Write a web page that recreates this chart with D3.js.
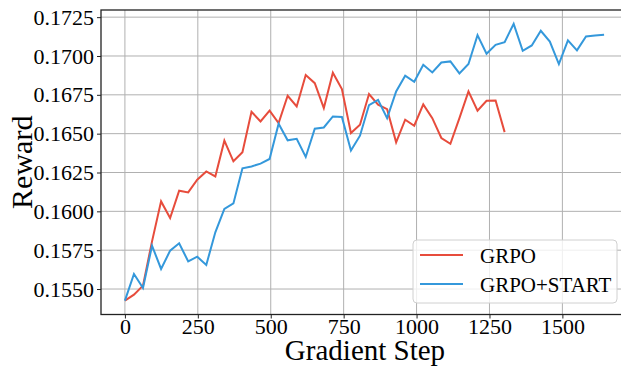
<!DOCTYPE html>
<html lang="en">

<head>
    <meta charset="UTF-8">
    <title>Reward vs Gradient Step</title>
    <script src="https://d3js.org/d3.v7.min.js"></script>
    <style>
        body {
            margin: 0;
            background: #fff;
        }

        svg {
            font-family: "Liberation Serif", "Times New Roman", serif;
        }

        .grid line {
            stroke: #b0b0b0;
            stroke-width: 1;
        }

        .line {
            fill: none;
            stroke-width: 2;
        }
    </style>
</head>

<body>
    <div id="chart"></div>

    <script>
        // training steps (shared by both runs)
        const steps = [0, 31, 62, 93, 124, 155, 186, 217, 248, 279, 310, 341, 372, 403, 434, 465, 496, 527,
            558, 589, 620, 651, 682, 713, 744, 775, 806, 837, 868, 899, 930, 961, 992, 1023, 1054, 1085,
            1116, 1147, 1178, 1209, 1240, 1271, 1302, 1333, 1364, 1395, 1426, 1457, 1488, 1519, 1550,
            1581, 1612, 1643];

        const grpo = [0.15425, 0.15464, 0.15522, 0.15807, 0.16064, 0.15957, 0.16133, 0.16122, 0.16204, 0.16257,
            0.16225, 0.16455, 0.16322, 0.16380, 0.16641, 0.16579, 0.16648, 0.16568, 0.16744, 0.16675,
            0.16877, 0.16825, 0.16665, 0.16892, 0.16787, 0.16504, 0.16557, 0.16755, 0.16686, 0.16658,
            0.16444, 0.16590, 0.16551, 0.16688, 0.16600, 0.16472, 0.16435, 0.16600, 0.16772, 0.16648,
            0.16712, 0.16714, 0.16510];

        const grpoStart = [0.15425, 0.15597, 0.15507, 0.15779, 0.15629, 0.15747, 0.15794, 0.15678, 0.15708, 0.15655,
            0.15865, 0.16015, 0.16051, 0.16277, 0.16289, 0.16307, 0.16337, 0.16564, 0.16457, 0.16467,
            0.16350, 0.16532, 0.16540, 0.16611, 0.16607, 0.16392, 0.16487, 0.16684, 0.16718, 0.16600,
            0.16772, 0.16873, 0.16834, 0.16943, 0.16894, 0.16958, 0.16965, 0.16888, 0.16948, 0.17134,
            0.17014, 0.17072, 0.17089, 0.17207, 0.17033, 0.17068, 0.17162, 0.17093, 0.16948, 0.17100,
            0.17036, 0.17126, 0.17132, 0.17136];

        const xTicks = [0, 250, 500, 750, 1000, 1250, 1500];
        const yTicks = [0.1550, 0.1575, 0.1600, 0.1625, 0.1650, 0.1675, 0.1700, 0.1725];

        const series = [
            { name: "GRPO", values: grpo, color: "#e74c3c" },
            { name: "GRPO+START", values: grpoStart, color: "#3498db" }
        ];

        const W = 621, H = 366;
        // axes box runs past the right edge of the picture
        const pLeft = 101, pTop = 10, pBottom = 314.5, pRight = 628;
        const serif = "Liberation Serif, Times New Roman, serif";

        const svg = d3.select("#chart").append("svg")
            .attr("width", W)
            .attr("height", H);

        const x = d3.scaleLinear().domain([-82, 1725]).range([pLeft, pRight]);
        const y = d3.scaleLinear().domain([0.15336, 0.17296]).range([pBottom, pTop]);

        // grid
        svg.append("g").attr("class", "grid")
            .selectAll("line").data(xTicks).enter().append("line")
            .attr("x1", d => x(d)).attr("x2", d => x(d))
            .attr("y1", pTop).attr("y2", pBottom);

        svg.append("g").attr("class", "grid")
            .selectAll("line").data(yTicks).enter().append("line")
            .attr("x1", pLeft).attr("x2", pRight)
            .attr("y1", d => y(d)).attr("y2", d => y(d));

        // lines
        const line = d3.line()
            .x((d, i) => x(steps[i]))
            .y(d => y(d));

        series.forEach(s => {
            svg.append("path")
                .datum(s.values)
                .attr("class", "line")
                .attr("stroke", s.color)
                .attr("d", line);
        });

        // spines
        svg.append("rect")
            .attr("x", pLeft).attr("y", pTop)
            .attr("width", pRight - pLeft).attr("height", pBottom - pTop)
            .attr("fill", "none")
            .attr("stroke", "#222")
            .attr("stroke-width", 1.3);

        // axes
        const xAxis = svg.append("g")
            .attr("transform", `translate(0,${pBottom})`)
            .call(d3.axisBottom(x).tickValues(xTicks).tickSize(4).tickPadding(0).tickFormat(d3.format("d")));

        const yAxis = svg.append("g")
            .attr("transform", `translate(${pLeft},0)`)
            .call(d3.axisLeft(y).tickValues(yTicks).tickSize(4).tickPadding(3).tickFormat(d3.format(".4f")));

        [xAxis, yAxis].forEach(a => {
            a.attr("font-family", serif).attr("font-size", 22);
            a.select(".domain").remove();
            a.selectAll(".tick line").attr("stroke", "#222");
            a.selectAll(".tick text").attr("fill", "#000");
        });

        // axis labels
        svg.append("text")
            .attr("x", 365)
            .attr("y", 360)
            .attr("text-anchor", "middle")
            .attr("font-family", serif)
            .attr("font-size", 29)
            .text("Gradient Step");

        svg.append("text")
            .attr("transform", `translate(32,${(pTop + pBottom) / 2}) rotate(-90)`)
            .attr("text-anchor", "middle")
            .attr("font-family", serif)
            .attr("font-size", 30)
            .text("Reward");

        // legend
        const lg = svg.append("g");
        lg.append("rect")
            .attr("x", 413).attr("y", 240)
            .attr("width", 204).attr("height", 63)
            .attr("rx", 4)
            .attr("fill", "#fff").attr("fill-opacity", 0.8)
            .attr("stroke", "#d0d0d0");

        series.forEach((s, i) => {
            const ly = 255 + i * 29;
            lg.append("line")
                .attr("x1", 420).attr("x2", 463)
                .attr("y1", ly).attr("y2", ly)
                .attr("stroke", s.color)
                .attr("stroke-width", 2);
            lg.append("text")
                .attr("x", 480).attr("y", ly + 7.5)
                .attr("font-family", serif)
                .attr("font-size", 21)
                .text(s.name);
        });
    </script>
</body>

</html>
